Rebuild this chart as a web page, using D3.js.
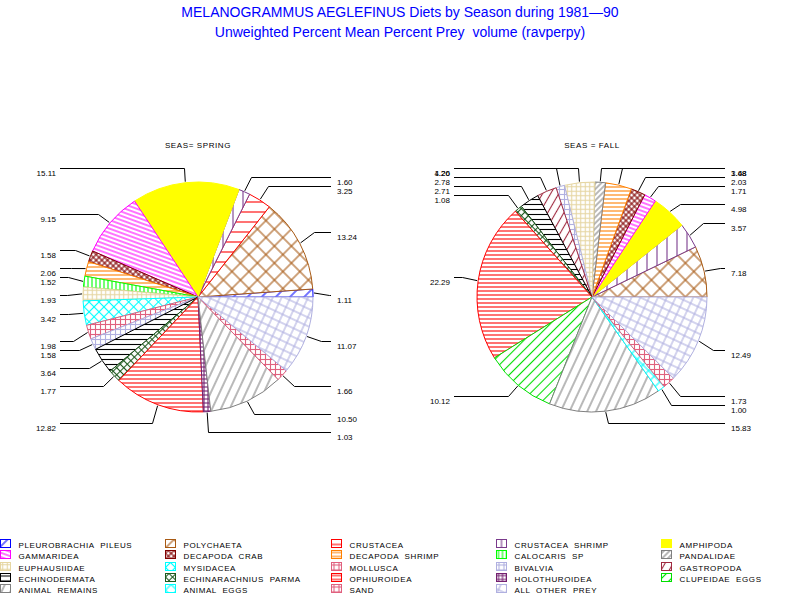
<!DOCTYPE html>
<html>
<head>
<meta charset="utf-8">
<script src="https://cdn.jsdelivr.net/npm/d3@7"></script>
<style>
  body { margin: 0; background: #fff; }
  svg { display: block; }
  text { font-family: 'Liberation Sans', Arial, sans-serif; }
</style>
</head>
<body>
<svg id="chart" width="800" height="600"></svg>
<script>
const titleLines = [
  'MELANOGRAMMUS AEGLEFINUS Diets by Season during 1981\u201490',
  'Unweighted Percent Mean Percent Prey  volume (ravperpy)'
];
const seasonLabels = ['SEAS= SPRING', 'SEAS = FALL'];

const categories = [
  'PLEUROBRACHIA PILEUS', 'POLYCHAETA', 'CRUSTACEA', 'CRUSTACEA SHRIMP', 'AMPHIPODA',
  'GAMMARIDEA', 'DECAPODA CRAB', 'DECAPODA SHRIMP', 'CALOCARIS SP', 'PANDALIDAE',
  'EUPHAUSIIDAE', 'MYSIDACEA', 'MOLLUSCA', 'BIVALVIA', 'GASTROPODA',
  'ECHINODERMATA', 'ECHINARACHNIUS PARMA', 'OPHIUROIDEA', 'HOLOTHUROIDEA', 'CLUPEIDAE EGGS',
  'ANIMAL REMAINS', 'ANIMAL EGGS', 'SAND', 'ALL OTHER PREY'
];
// percent of diet, same order as categories (0 = not in that season)
const springValues = [
  1.11, 13.24, 3.25, 1.60, 15.11,
  9.15, 1.58, 2.06, 1.52, 0,
  1.93, 3.42, 1.98, 1.58, 0,
  3.64, 1.77, 12.82, 1.03, 0,
  10.50, 0, 1.66, 11.07
];
const fallValues = [
  0, 7.18, 0, 3.57, 4.98,
  1.71, 2.03, 3.68, 0, 1.48,
  4.26, 0, 0, 1.20, 2.78,
  2.71, 1.08, 22.29, 0, 10.12,
  15.83, 1.00, 1.73, 12.49
];

// fill look per category: colour, hatch kind, gap, angle
const preyColors = [
  '#0000ff', '#a85a14', '#ff0000', '#7a3a8c', '#ffff00',
  '#ff00ff', '#800000', '#ff8000', '#00ff00', '#808080',
  '#e6d6a2', '#00ffff', '#e0607e', '#b0b0e0', '#a02a40',
  '#000000', '#1e5a1e', '#ff0000', '#742070', '#00e000',
  '#808080', '#00ffff', '#e0607e', '#b0b0e0'
];
const hatchKind = [
  'line', 'grid', 'line', 'line', 'solid',
  'line', 'grid', 'line', 'line', 'line',
  'grid', 'grid', 'grid', 'grid', 'line',
  'line', 'grid', 'line', 'grid', 'line',
  'line', 'grid', 'grid', 'grid'
];
const hatchGap = [
  10, 12, 10, 10, 0,
  4, 4, 4, 4, 4,
  4.5, 7, 5, 5, 7,
  5, 5, 4, 4, 7,
  8, 8, 5, 8
];
const hatchAngle = [
  -45, 45, 0, 90, 0,
  20, 45, 0, 90, -45,
  0, 45, 0, 0, -60,
  0, 45, 0, 0, -45,
  -65, 45, 0, 25
];

const svg = d3.select('#chart');
const defs = svg.append('defs');

categories.forEach((c, i) => {
  if (hatchKind[i] == 'solid') return;
  const s = hatchGap[i];
  const p = defs.append('pattern')
    .attr('id', 'pat' + i)
    .attr('patternUnits', 'userSpaceOnUse')
    .attr('width', s).attr('height', s)
    .attr('patternTransform', `rotate(${hatchAngle[i]})`);
  p.append('rect').attr('width', s).attr('height', s).attr('fill', '#fff');
  p.append('line')
    .attr('x1', 0).attr('x2', s).attr('y1', s / 2).attr('y2', s / 2)
    .attr('stroke', preyColors[i]).attr('stroke-width', 1.1);
  if (hatchKind[i] == 'grid') {
    p.append('line')
      .attr('x1', s / 2).attr('x2', s / 2).attr('y1', 0).attr('y2', s)
      .attr('stroke', preyColors[i]).attr('stroke-width', 1.1);
  }
});
const fillOf = i => hatchKind[i] == 'solid' ? preyColors[i] : `url(#pat${i})`;

// titles
svg.selectAll('text.title').data(titleLines).enter()
  .append('text')
    .attr('class', 'title')
    .attr('x', 400)
    .attr('y', (d, i) => 17 + i * 20)
    .attr('text-anchor', 'middle')
    .attr('font-size', 14)
    .attr('fill', '#0000ff')
    .style('white-space', 'pre')
    .text(d => d);

const R = 115;
const centers = [198, 592];
const cy = 297;
const rowY = d3.scaleLinear().domain([0, 1]).range([168, 177.1]);

const pie = d3.pie()
  .sort(null)
  .value(d => d.value)
  .startAngle(Math.PI / 2)
  .endAngle(Math.PI / 2 - 2 * Math.PI);
const arc = d3.arc().innerRadius(0).outerRadius(R);

[springValues, fallValues].forEach((values, k) => {
  const cx = centers[k];
  const rows = values.map((v, i) => ({ value: v, idx: i })).filter(d => d.value > 0);
  const g = svg.append('g').attr('transform', `translate(${cx},${cy})`);

  svg.append('text')
    .attr('x', cx)
    .attr('y', 147.5)
    .attr('text-anchor', 'middle')
    .attr('font-size', 8)
    .attr('letter-spacing', 0.6)
    .style('white-space', 'pre')
    .text(seasonLabels[k]);

  const arcs = pie(rows);
  g.selectAll('path.slice').data(arcs).enter()
    .append('path')
      .attr('class', 'slice')
      .attr('d', arc)
      .attr('fill', d => fillOf(d.data.idx))
      .attr('stroke', d => preyColors[d.data.idx])
      .attr('stroke-width', 1);

  // leaders snap to text rows, as in the original output
  arcs.forEach(a => {
    const mid = (a.startAngle + a.endAngle) / 2,
      ux = Math.sin(mid),
      uy = -Math.cos(mid),
      side = ux >= 0 ? 1 : -1,
      ex = Math.round((R + 16) * ux) + 0.5,
      ly = Math.round(rowY(Math.round(rowY.invert(cy + (R + 16) * uy))) - cy) + 0.5,
      lx = side > 0 ? 133 : -138;
    g.append('path')
      .attr('d', `M${(R + 1) * ux},${(R + 1) * uy}L${ex},${ly}L${lx},${ly}`)
      .attr('fill', 'none')
      .attr('stroke', '#000')
      .attr('stroke-width', 1);
    g.append('text')
      .attr('x', side > 0 ? lx + 6 : lx - 4)
      .attr('y', ly + 7)
      .attr('text-anchor', side > 0 ? 'start' : 'end')
      .attr('font-size', 8)
      .text(d3.format('.2f')(a.data.value));
  });
});

// legend
const legend = svg.append('g');
const item = legend.selectAll('g').data(categories).enter()
  .append('g')
    .attr('transform', (d, i) => `translate(${Math.round((i % 5) * 165.3) + 0.5},${Math.round(539 + Math.floor(i / 5) * 11.3) + 0.5})`);
item.append('rect')
  .attr('width', 10).attr('height', 8)
  .attr('fill', (d, i) => fillOf(i))
  .attr('stroke', (d, i) => preyColors[i]);
item.append('text')
  .attr('x', 18)
  .attr('y', 8)
  .attr('font-size', 8)
  .attr('letter-spacing', 0.6)
  .attr('word-spacing', 3)
  .text(d => d);
</script>
</body>
</html>
